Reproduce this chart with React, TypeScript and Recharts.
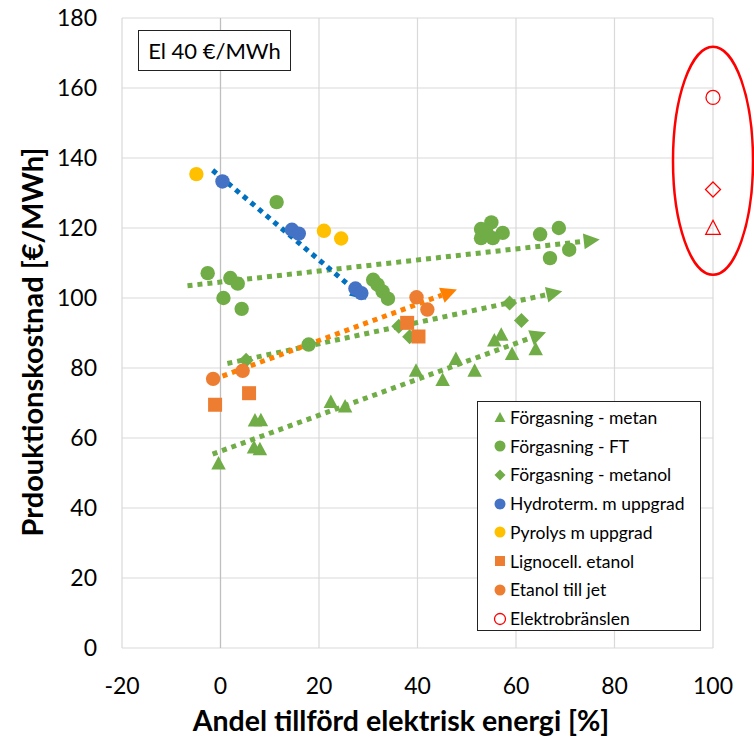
import React from 'react';
import {
  ScatterChart,
  Scatter,
  XAxis,
  YAxis,
  CartesianGrid,
  ReferenceLine,
  ReferenceDot,
  Legend,
  Label,
} from 'recharts';

// ---------- data ----------
const metanX = [-0.4, 6.8, 8.0, 7.0, 8.2, 22.4, 25.3, 39.7, 45.1, 47.8, 51.6, 55.6, 57.0, 59.2, 64.0];
const metanY = [52.9, 57.5, 57.0, 65.2, 65.3, 70.5, 69.2, 79.4, 76.8, 82.8, 79.4, 88.1, 89.7, 84.2, 85.6];

const ftX = [-2.6, 2.0, 3.5, 0.6, 4.3, 11.4, 17.9, 31.0, 31.9, 32.9, 34.0, 52.9, 55.0, 52.9, 55.3, 57.3, 54.0, 64.9, 68.7, 66.9, 70.8];
const ftY = [107.1, 105.7, 104.1, 100.0, 96.9, 127.4, 86.7, 105.2, 103.8, 101.9, 99.8, 119.7, 121.6, 117.1, 117.1, 118.6, 118.9, 118.2, 120.0, 111.4, 113.8];

const metanolX = [5.2, 36.2, 38.4, 58.7, 61.1];
const metanolY = [82.2, 91.9, 88.9, 98.6, 93.6];

const hydroX = [0.4, 14.5, 15.9, 27.4, 28.6];
const hydroY = [133.3, 119.5, 118.4, 102.7, 101.4];

const pyrolysX = [-4.9, 21.0, 24.5];
const pyrolysY = [135.4, 119.2, 117.0];

const lignoX = [-1.1, 5.8, 37.9, 40.2];
const lignoY = [69.5, 72.8, 92.9, 89.0];

const jetX = [-1.5, 4.5, 39.8, 42.0];
const jetY = [76.9, 79.2, 100.2, 96.7];

const elektroX = [100, 100, 100];
const elektroY = [157.3, 131.0, 120.2];
const elektroMarker = ['circle', 'diamond', 'triangle'];

// trend lines: [start, end]
const trendMetan = [{ x: -1.6, y: 55.4 }, { x: 66.1, y: 90.2 }];
const trendFT = [{ x: -6.7, y: 103.5 }, { x: 77.0, y: 116.7 }];
const trendMetanol = [{ x: 1.4, y: 81.3 }, { x: 69.4, y: 101.9 }];
const trendHydro = [{ x: -1.6, y: 136.5 }, { x: 29.6, y: 99.5 }];
const trendJet = [{ x: -1.5, y: 76.7 }, { x: 48.0, y: 102.4 }];

// ellipse around elektrobränslen (center, data units)
const ellipseCenter = { x: 100, y: 139.2 };

const xTicks = [-20, 0, 20, 40, 60, 80, 100];
const yTicks = [0, 20, 40, 60, 80, 100, 120, 140, 160, 180];

const zip = (xs: number[], ys: number[]) => xs.map((x, i) => ({ x, y: ys[i] }));

// ---------- colors ----------
const GREEN = '#70AD47';
const BLUE = '#4472C4';
const YELLOW = '#FFC000';
const ORANGE = '#ED7D31';
const RED = '#FF0000';
const TREND_BLUE = '#0070C0';
const TREND_ORANGE = '#FF8000';

// ---------- marker shapes ----------
const triPts = (cx: number, cy: number, w: number, h: number) =>
  `${cx},${cy - h / 2} ${cx + w / 2},${cy + h / 2} ${cx - w / 2},${cy + h / 2}`;
const diaPts = (cx: number, cy: number, r: number) =>
  `${cx},${cy - r} ${cx + r},${cy} ${cx},${cy + r} ${cx - r},${cy}`;

const TriangleShape = (p: any) => <polygon points={triPts(p.cx, p.cy, 14.5, 13.5)} fill={p.fill} />;
const CircleShape = (p: any) => <circle cx={p.cx} cy={p.cy} r={7.2} fill={p.fill} />;
const DiamondShape = (p: any) => <polygon points={diaPts(p.cx, p.cy, 7.5)} fill={p.fill} />;
const SquareShape = (p: any) => <rect x={p.cx - 7} y={p.cy - 7} width={14} height={14} fill={p.fill} />;
const ElektroShape = (p: any) => {
  const kind = p.payload?.m;
  if (kind === 'diamond')
    return <polygon points={diaPts(p.cx, p.cy, 7.5)} fill="none" stroke={RED} strokeWidth={1.3} />;
  if (kind === 'triangle')
    return <polygon points={triPts(p.cx, p.cy, 14.5, 14)} fill="none" stroke={RED} strokeWidth={1.3} />;
  return <circle cx={p.cx} cy={p.cy} r={7} fill="none" stroke={RED} strokeWidth={1.3} />;
};

const TrendShape = (color: string) => (p: any) => {
  const { x1, y1, x2, y2 } = p;
  if (x1 == null) return <g />;
  const ang = Math.atan2(y2 - y1, x2 - x1);
  const L = 16;
  const W = 8;
  const bx = x2 - L * Math.cos(ang);
  const by = y2 - L * Math.sin(ang);
  const nx = -Math.sin(ang);
  const ny = Math.cos(ang);
  return (
    <g>
      <line x1={x1} y1={y1} x2={bx} y2={by} stroke={color} strokeWidth={5} strokeDasharray="5 5" />
      <polygon
        points={`${x2},${y2} ${bx + nx * W},${by + ny * W} ${bx - nx * W},${by - ny * W}`}
        fill={color}
      />
    </g>
  );
};

const EllipseShape = (p: any) => (
  <ellipse cx={p.cx} cy={p.cy} rx={40} ry={114} fill="none" stroke={RED} strokeWidth={2.5} />
);

// ---------- legend ----------
const legendItems = [
  { name: 'Förgasning - metan', kind: 'triangle', color: GREEN },
  { name: 'Förgasning - FT', kind: 'circle', color: GREEN },
  { name: 'Förgasning - metanol', kind: 'diamond', color: GREEN },
  { name: 'Hydroterm. m uppgrad', kind: 'circle', color: BLUE },
  { name: 'Pyrolys m uppgrad', kind: 'circle', color: YELLOW },
  { name: 'Lignocell. etanol', kind: 'square', color: ORANGE },
  { name: 'Etanol till jet', kind: 'circle', color: ORANGE },
  { name: 'Elektrobränslen', kind: 'hollow', color: RED },
];

const LegendMarker = ({ kind, color }: { kind: string; color: string }) => (
  <svg width={14} height={14} style={{ display: 'block' }}>
    {kind === 'triangle' && <polygon points={triPts(7, 7, 11, 10)} fill={color} />}
    {kind === 'circle' && <circle cx={7} cy={7} r={5.5} fill={color} />}
    {kind === 'diamond' && <polygon points={diaPts(7, 7, 5.5)} fill={color} />}
    {kind === 'square' && <rect x={2} y={2} width={10} height={10} fill={color} />}
    {kind === 'hollow' && <circle cx={7} cy={7} r={5.5} fill="none" stroke={color} strokeWidth={1.3} />}
  </svg>
);

const LegendContent = () => (
  <div
    style={{
      width: 224,
      height: 230,
      boxSizing: 'border-box',
      border: '1.3px solid #222',
      background: '#fff',
      paddingTop: 1,
    }}
  >
    {legendItems.map((it) => (
      <div
        key={it.name}
        style={{ display: 'flex', alignItems: 'center', height: 28.75, paddingLeft: 15 }}
      >
        <LegendMarker kind={it.kind} color={it.color} />
        <span style={{ marginLeft: 3, fontSize: 17.5, color: '#000', whiteSpace: 'nowrap' }}>{it.name}</span>
      </div>
    ))}
  </div>
);

export default function App() {
  const font = 'Lato, "Open Sans", sans-serif';
  return (
    <div
      style={{
        position: 'absolute',
        left: 0,
        top: 0,
        width: 754,
        height: 740,
        background: '#fff',
        fontFamily: font,
      }}
    >
      <ScatterChart
        width={754}
        height={740}
        margin={{ top: 18, right: 41, bottom: 0, left: 0 }}
        style={{ fontFamily: font }}
      >
        <CartesianGrid stroke="#D9D9D9" strokeWidth={1.2} />
        <XAxis
          type="number"
          dataKey="x"
          domain={[-20, 100]}
          ticks={xTicks}
          height={92}
          axisLine={false}
          tickLine={false}
          tickMargin={24}
          tick={{ fontSize: 23, fill: '#000' }}
          label={
            <Label
              content={() => (
                <text x={401} y={731} textAnchor="middle" fontSize={28.5} fontWeight={700} fill="#000">
                  Andel tillförd elektrisk energi [%]
                </text>
              )}
            />
          }
        />
        <YAxis
          type="number"
          dataKey="y"
          domain={[0, 180]}
          ticks={yTicks}
          width={122}
          axisLine={false}
          tickLine={false}
          tickMargin={19}
          tick={{ fontSize: 23, fill: '#000' }}
          label={
            <Label
              content={() => (
                <text
                  x={0}
                  y={0}
                  transform="translate(43, 342) rotate(-90)"
                  textAnchor="middle"
                  fontSize={29}
                  fontWeight={700}
                  fill="#000"
                >
                  Prdouktionskostnad [€/MWh]
                </text>
              )}
            />
          }
        />
        <ReferenceLine x={0} stroke="#BFBFBF" strokeWidth={1.2} />

        <Scatter name="Förgasning - metan" data={zip(metanX, metanY)} fill={GREEN} shape={TriangleShape} isAnimationActive={false} />
        <Scatter name="Förgasning - FT" data={zip(ftX, ftY)} fill={GREEN} shape={CircleShape} isAnimationActive={false} />
        <Scatter name="Förgasning - metanol" data={zip(metanolX, metanolY)} fill={GREEN} shape={DiamondShape} isAnimationActive={false} />
        <Scatter name="Hydroterm. m uppgrad" data={zip(hydroX, hydroY)} fill={BLUE} shape={CircleShape} isAnimationActive={false} />
        <Scatter name="Pyrolys m uppgrad" data={zip(pyrolysX, pyrolysY)} fill={YELLOW} shape={CircleShape} isAnimationActive={false} />
        <Scatter name="Lignocell. etanol" data={zip(lignoX, lignoY)} fill={ORANGE} shape={SquareShape} isAnimationActive={false} />
        <Scatter name="Etanol till jet" data={zip(jetX, jetY)} fill={ORANGE} shape={CircleShape} isAnimationActive={false} />
        <Scatter
          name="Elektrobränslen"
          data={elektroX.map((x, i) => ({ x, y: elektroY[i], m: elektroMarker[i] }))}
          fill={RED}
          shape={ElektroShape}
          isAnimationActive={false}
        />

        <ReferenceLine segment={trendMetan} stroke={GREEN} shape={TrendShape(GREEN)} ifOverflow="visible" />
        <ReferenceLine segment={trendFT} stroke={GREEN} shape={TrendShape(GREEN)} ifOverflow="visible" />
        <ReferenceLine segment={trendMetanol} stroke={GREEN} shape={TrendShape(GREEN)} ifOverflow="visible" />
        <ReferenceLine segment={trendHydro} stroke={TREND_BLUE} shape={TrendShape(TREND_BLUE)} ifOverflow="visible" />
        <ReferenceLine segment={trendJet} stroke={TREND_ORANGE} shape={TrendShape(TREND_ORANGE)} ifOverflow="visible" />

        <ReferenceDot x={ellipseCenter.x} y={ellipseCenter.y} shape={EllipseShape} ifOverflow="visible" />

        <Legend
          layout="vertical"
          align="center"
          verticalAlign="middle"
          content={<LegendContent />}
          wrapperStyle={{ position: 'absolute', left: 477, top: 401, width: 224, height: 230 }}
        />
      </ScatterChart>
      <div
        style={{
          position: 'absolute',
          left: 138,
          top: 30,
          width: 153,
          height: 41,
          boxSizing: 'border-box',
          border: '1.3px solid #222',
          background: '#fff',
          display: 'flex',
          alignItems: 'center',
          justifyContent: 'center',
          fontSize: 22,
          color: '#000',
        }}
      >
        El 40 €/MWh
      </div>
    </div>
  );
}
